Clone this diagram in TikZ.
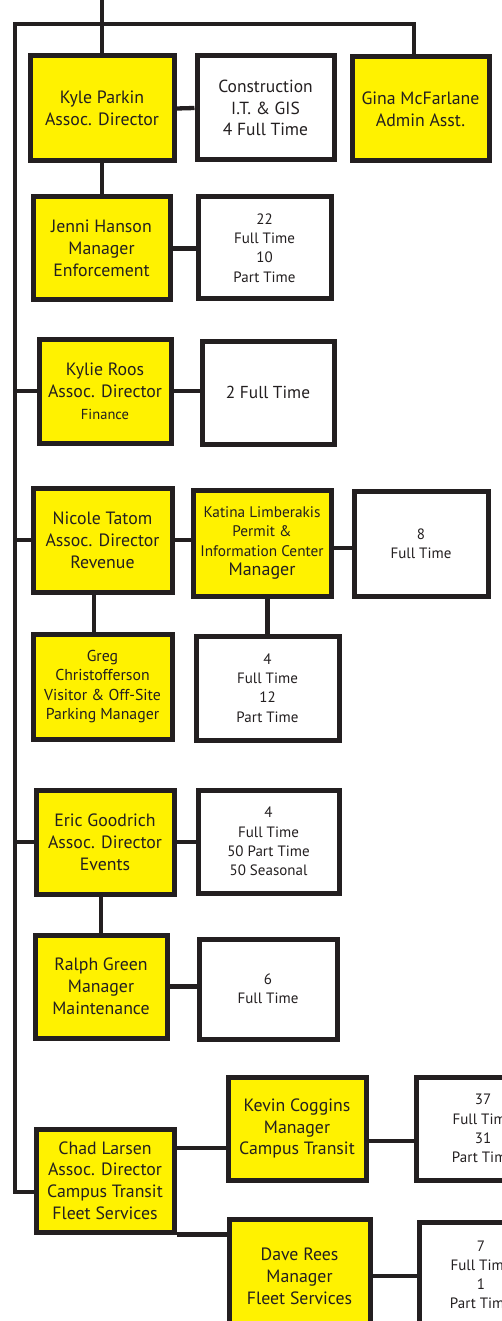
\documentclass[tikz,border=0pt]{standalone}
\usepackage{fontspec}
\setmainfont{PT Sans}

\definecolor{chartyellow}{HTML}{FFF200}
\definecolor{chartink}{HTML}{231F20}

\begin{document}
\begin{tikzpicture}
    [x=1pt, y=-1pt, every node/.style={text=chartink, inner sep=0pt},
     lead/.style={rectangle, draw=chartink, fill=chartyellow, line width=5pt, align=center, font=\fontsize{17.8}{21.8}\selectfont},
     staff/.style={rectangle, draw=chartink, fill=white, line width=5pt, align=center, font=\fontsize{15}{19.2}\selectfont},
     dims/.style 2 args={minimum width=#1, minimum height=#2},
     link/.style={draw=chartink, line width=4.3pt}]
    \useasboundingbox (0,0) rectangle (501,1321);
    % top row
    \node[lead, dims={144}{105}] (kyle) at (102,108.5) {Kyle Parkin\\Assoc. Director};
    \node[staff, dims={137}{104}, font=\fontsize{17.5}{21.7}\selectfont] (const) at (265.5,108) {Construction\\I.T. \& GIS\\4 Full Time};
    \node[lead, dims={137}{104}] (gina) at (420.5,109) {Gina McFarlane\\Admin Asst.};
    \node[lead, dims={137}{103}] (jenni) at (101.5,248.5) {Jenni Hanson\\Manager\\Enforcement};
    \node[staff, dims={133}{102}] (jstaff) at (264.5,248) {22\\Full Time\\10\\Part Time};
    % finance
    \node[lead, dims={132}{104}] (kylie) at (105,391) {Kylie Roos\\Assoc. Director\\{\fontsize{14.5}{19}\selectfont Finance}};
    \node[staff, dims={132}{103}, font=\fontsize{17.3}{21.5}\selectfont] (kstaff) at (268,392.5) {2 Full Time};
    % revenue
    \node[lead, dims={139}{104}] (nicole) at (102.5,540) {Nicole Tatom\\Assoc. Director\\Revenue};
    \node[lead, dims={138}{106}, font=\fontsize{15.3}{19.5}\selectfont] (katina) at (262,543) {Katina Limberakis\\Permit \&\\Information Center\\{\fontsize{18}{21.5}\selectfont Manager}};
    \node[staff, dims={134}{105}] (pstaff) at (421,543.5) {8\\Full Time};
    \node[lead, dims={139}{105}, font=\fontsize{15.8}{19.5}\selectfont] (greg) at (102.5,686.5) {Greg\\Christofferson\\Visitor \& Off-Site\\Parking Manager};
    \node[staff, dims={143}{104}] (gstaff) at (267.5,688) {4\\Full Time\\12\\Part Time};
    % events
    \node[lead, dims={138}{104}] (eric) at (105,842) {Eric Goodrich\\Assoc. Director\\Events};
    \node[staff, dims={141}{103}] (estaff) at (268.5,841.5) {4\\Full Time\\50 Part Time\\50 Seasonal};
    \node[lead, dims={132}{103}] (ralph) at (101,986.5) {Ralph Green\\Manager\\Maintenance};
    \node[staff, dims={138}{100}] (rstaff) at (268,989) {6\\Full Time};
    % transit
    \node[lead, dims={138}{103}] (chad) at (105,1180.5) {Chad Larsen\\Assoc. Director\\Campus Transit\\Fleet Services};
    \node[lead, dims={138}{103}] (kevin) at (297,1128.5) {Kevin Coggins\\Manager\\Campus Transit};
    \node[staff, dims={134}{103}] (tstaff) at (483,1128.5) {37\\Full Time\\31\\Part Time};
    \node[lead, dims={141}{114}] (dave) at (299.5,1276) {Dave Rees\\Manager\\Fleet Services};
    \node[staff, dims={124}{106}] (fstaff) at (481,1275) {7\\Full Time\\1\\Part Time};

    \coordinate (top) at (102,0);
    \coordinate (barL) at (15,24);
    \coordinate (barR) at (414,24);

    \draw[link] (top) -- (kyle.north);
    \draw[link] (barR |- gina.north) -- (barR) -- (barL) |- (chad.189);
    \foreach \n in {kylie, nicole, eric}
        \draw[link] (barL |- \n.west) -- (\n.west);
    \draw[link] (kyle.east) -- (const.west);
    \draw[link] (kyle.south) -- (kyle.south |- jenni.north);
    \draw[link] (jenni.east) -- (jenni.east -| jstaff.west);
    \draw[link] (kylie.east) -- (kylie.east -| kstaff.west);
    \draw[link] (nicole.east) -- (nicole.east -| katina.west);
    \draw[link] (katina.356) -- (katina.356 -| pstaff.west);
    \draw[link] ([xshift=-8.5pt]greg.north) -- ([xshift=-8.5pt]nicole.south);
    \draw[link] (gstaff.north) -- (gstaff.north |- katina.south);
    \draw[link] (eric.east) -- (eric.east -| estaff.west);
    \draw[link] (ralph.north) -- (ralph.north |- eric.south);
    \draw[link] (ralph.east) -- (ralph.east -| rstaff.west);
    \draw[link] (kevin.195) -- (kevin.195 -| chad.east);
    \draw[link] (chad.south east) -- (chad.south east -| dave.west);
    \draw[link] (kevin.350) -- (kevin.350 -| tstaff.west);
    \draw[link] (dave.east) -- (dave.east -| fstaff.west);
\end{tikzpicture}
\end{document}
